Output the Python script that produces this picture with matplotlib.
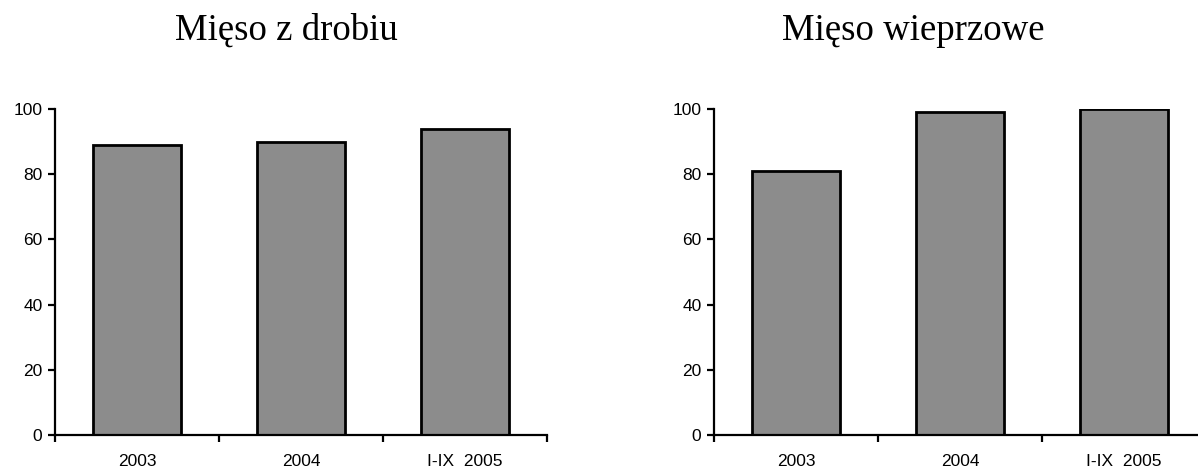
import numpy as np
import matplotlib.pyplot as plt

categories = ['2003', '2004', 'I-IX  2005']
drob = [89, 90, 94]
wieprz = [81, 99, 100]
titles = ['Mięso z drobiu', 'Mięso wieprzowe']

plt.rcParams['font.family'] = ['Liberation Sans', 'DejaVu Sans']

fig = plt.figure(figsize=(11.98, 4.70), dpi=100)
W, H = 1198., 470.

def panel(x0, vals):
    ax = fig.add_axes([x0 / W, 35 / H, 492 / W, 326 / H])
    pos = np.arange(len(vals)) + 0.5
    ax.bar(pos, vals, width=0.54, color='#8c8c8c', edgecolor='black', linewidth=2, zorder=2)
    ax.set_xlim(0, 3)
    ax.set_ylim(0, 100)
    ax.spines['top'].set_visible(False)
    ax.spines['right'].set_visible(False)
    ax.spines['left'].set_linewidth(1.6)
    ax.spines['bottom'].set_linewidth(1.6)
    ax.spines['left'].set_bounds(0, 100)
    ax.set_yticks(np.arange(0, 101, 20))
    ax.tick_params(axis='y', direction='out', length=5, width=1.6, labelsize=12.5, pad=4)
    ax.set_xticks([0, 1, 2, 3])
    ax.set_xticklabels([])
    ax.tick_params(axis='x', which='major', direction='out', length=5, width=1.6)
    ax.set_xticks(pos, minor=True)
    ax.set_xticklabels(categories, minor=True)
    ax.tick_params(axis='x', which='minor', length=0, labelsize=12.5, pad=14)
    ax.patch.set_alpha(0)
    return ax

panel(55, drob)
panel(714, wieprz)

fig.text(286 / W, 1 - 40 / H, titles[0], family='Liberation Serif', fontsize=26.5,
         ha='center', va='baseline')
fig.text(913 / W, 1 - 40 / H, titles[1], family='Liberation Serif', fontsize=26.5,
         ha='center', va='baseline')

fig.savefig('out.png', dpi=100)
